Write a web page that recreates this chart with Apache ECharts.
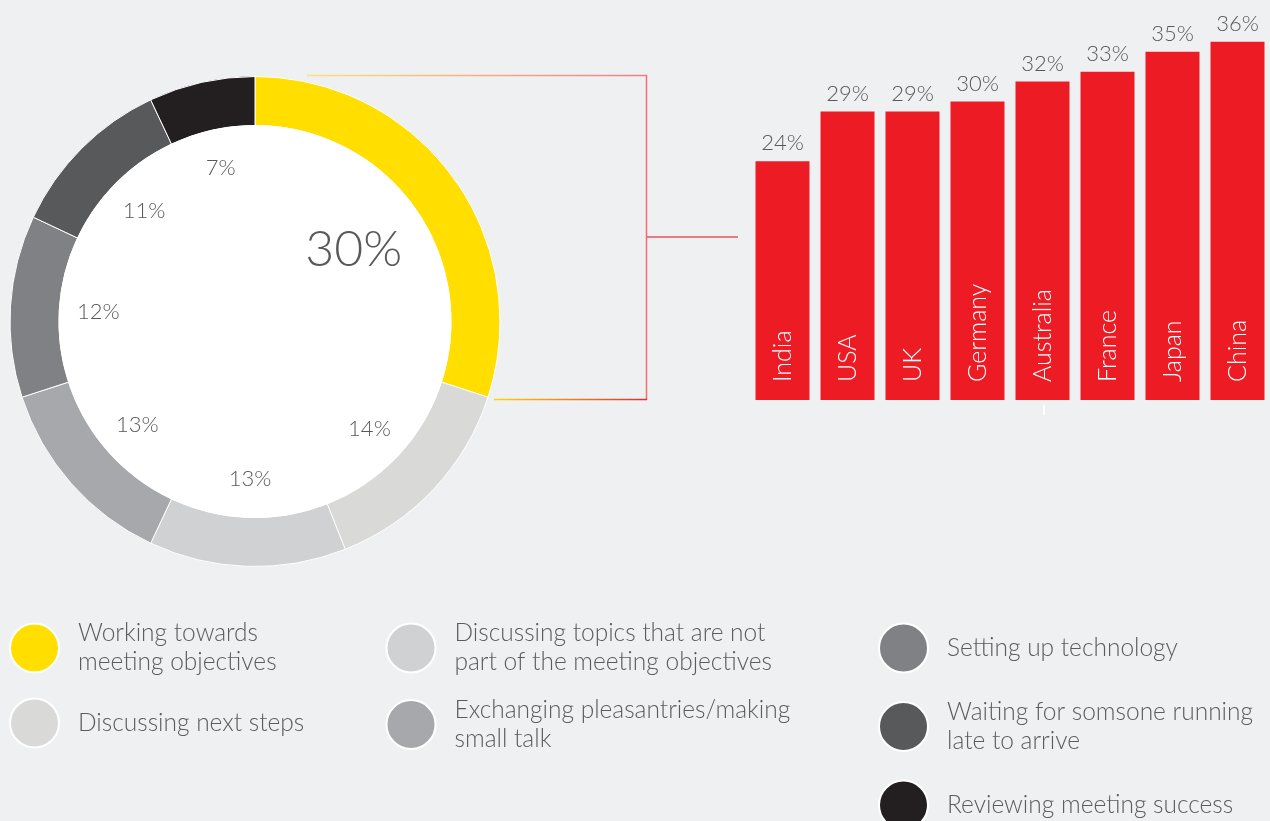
<!DOCTYPE html>
<html>
<head>
<meta charset="utf-8">
<script src="https://cdn.jsdelivr.net/npm/echarts@6/dist/echarts.min.js"></script>
<style>
  html, body { margin: 0; padding: 0; background: #eff0f2; }
  #chart { width: 1270px; height: 821px; }
</style>
</head>
<body>
<div id="chart"></div>
<script>
// Share of meeting time by activity
const activityNames = [
  'Working towards meeting objectives',
  'Discussing next steps',
  'Discussing topics that are not part of the meeting objectives',
  'Exchanging pleasantries/making small talk',
  'Setting up technology',
  'Waiting for somsone running late to arrive',
  'Reviewing meeting success'
];
const activityLegendText = [
  'Working towards\nmeeting objectives',
  'Discussing next steps',
  'Discussing topics that are not\npart of the meeting objectives',
  'Exchanging pleasantries/making\nsmall talk',
  'Setting up technology',
  'Waiting for somsone running\nlate to arrive',
  'Reviewing meeting success'
];
const activityValues = [30, 14, 13, 13, 12, 11, 7];

// Time spent working towards objectives, by country
const countries = ['India', 'USA', 'UK', 'Germany', 'Australia', 'France', 'Japan', 'China'];
const countryValues = [24, 29, 29, 30, 32, 33, 35, 36];

const palette = ['#ffde00', '#d9dad7', '#d0d1d3', '#a7a8ab', '#808184', '#58595b', '#231f20'];
const textGray = '#58595b';
const FONT = 'Lato';

const chart = echarts.init(document.getElementById('chart'), null, { renderer: 'canvas' });

const center = [255, 321.5];

const ringData = activityNames.map((n, i) => ({
  name: n, value: activityValues[i], itemStyle: { color: palette[i] }
}));

const legendText = {};
activityNames.forEach((n, i) => { legendText[n] = activityLegendText[i]; });

function legendCol(names, left, top, gap) {
  return {
    orient: 'vertical', left: left, top: top, height: 300, padding: 0, itemGap: gap,
    itemWidth: 49, itemHeight: 49, icon: 'circle', selectedMode: false,
    data: names,
    formatter: n => legendText[n],
    textStyle: {
      fontFamily: FONT, fontWeight: 300, fontSize: 24.5, lineHeight: 29,
      color: '#5b5c5e', padding: [0, 0, 0, 14]
    }
  };
}

const LG = (x0, y0, x1, y1, stops) => new echarts.graphic.LinearGradient(x0, y0, x1, y1, stops, true);

const option = {
  backgroundColor: '#eff0f2',
  animation: false,
  legend: [
    legendCol(activityNames.slice(0, 2), 9, 619, 20.5),
    legendCol(activityNames.slice(2, 4), 385.5, 619, 18.5),
    legendCol(activityNames.slice(4, 7), 878, 622.5, 24)
  ],
  grid: { left: 750, width: 525, top: 2, bottom: 421 },
  xAxis: {
    type: 'category', data: countries, z: 10,
    axisLine: { show: false }, axisTick: { show: false },
    axisLabel: {
      inside: true, rotate: 90, margin: 18, color: '#ffffff',
      fontFamily: FONT, fontWeight: 300, fontSize: 25
    }
  },
  yAxis: { type: 'value', min: 0, max: 40, show: false },
  series: [
    {
      type: 'pie', center: center, radius: [196, 245], startAngle: 90,
      data: ringData, label: { show: false }, labelLine: { show: false },
      itemStyle: { borderColor: '#ffffff', borderWidth: 1 },
      emphasis: { disabled: true }, silent: true
    },
    {
      type: 'pie', center: center, radius: [0, 196.5], silent: true,
      data: [{ value: 1, itemStyle: { color: '#ffffff' } }],
      label: { show: false }, labelLine: { show: false }, emphasis: { disabled: true }
    },
    {
      type: 'pie', center: center, radius: [116, 192], startAngle: 90, silent: true,
      data: activityValues.map((v, i) => ({
        value: v, itemStyle: { color: 'rgba(0,0,0,0)' },
        label: { show: i > 0 }
      })),
      label: {
        position: 'inside', rotate: 0, formatter: '{c}%', color: textGray,
        fontFamily: FONT, fontWeight: 300, fontSize: 22
      },
      labelLine: { show: false }, emphasis: { disabled: true }
    },
    {
      type: 'pie', center: center, radius: [0, 238], startAngle: 90, silent: true,
      data: activityValues.map((v, i) => ({
        value: v, itemStyle: { color: 'rgba(0,0,0,0)' },
        label: { show: i === 0 }
      })),
      label: {
        position: 'inside', rotate: 0, formatter: '{c}%', color: textGray,
        fontFamily: FONT, fontWeight: 300, fontSize: 50
      },
      labelLine: { show: false }, emphasis: { disabled: true }
    },
    {
      type: 'bar', data: countryValues, barWidth: 54, silent: true,
      itemStyle: { color: '#ed1c24' },
      label: {
        show: true, position: 'top', distance: 7, formatter: '{c}%',
        color: textGray, fontFamily: FONT, fontWeight: 300, fontSize: 22
      }
    }
  ],
  graphic: [
    { type: 'line', shape: { x1: 307, y1: 75.5, x2: 647, y2: 75.5 },
      style: { lineWidth: 1.5, stroke: LG(307, 0, 647, 0, [
        { offset: 0, color: '#fde07a' }, { offset: 1, color: '#f27d84' }]) } },
    { type: 'line', shape: { x1: 646.5, y1: 75, x2: 646.5, y2: 400 },
      style: { lineWidth: 1.5, stroke: '#ef6d73' } },
    { type: 'line', shape: { x1: 647, y1: 237, x2: 738, y2: 237 },
      style: { lineWidth: 1.5, stroke: '#e8555d' } },
    { type: 'line', shape: { x1: 494, y1: 399.5, x2: 647, y2: 399.5 },
      style: { lineWidth: 1.5, stroke: LG(494, 0, 647, 0, [
        { offset: 0, color: '#ffd500' }, { offset: 1, color: '#d9303a' }]) } },
    { type: 'line', shape: { x1: 1044, y1: 405, x2: 1044, y2: 415 },
      style: { lineWidth: 2, stroke: '#ffffff' } }
  ]
};

chart.setOption(option);
</script>
</body>
</html>
